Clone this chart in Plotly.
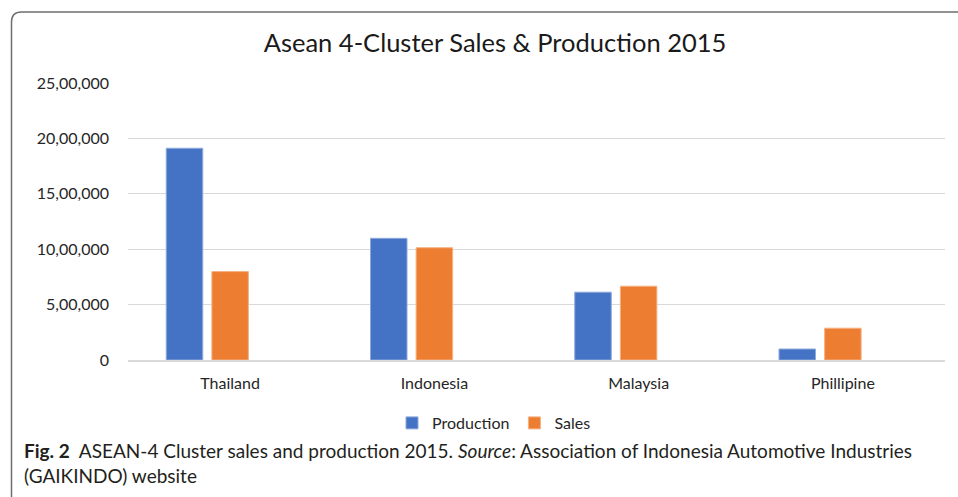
import plotly.graph_objects as go

categories = ["Thailand", "Indonesia", "Malaysia", "Phillipine"]
production = [1911000, 1098000, 612000, 99000]
sales = [798000, 1013000, 666000, 287000]
ytick_vals = [0, 500000, 1000000, 1500000, 2000000, 2500000]
ytick_text = ["0", "5,00,000", "10,00,000", "15,00,000", "20,00,000", "25,00,000"]

W, H = 958, 497
L, R, T, B = 128, 13, 83, 137
PW, PH = W - L - R, H - T - B
FONT = "Lato"

def px(x):
    return (x - L) / PW

def py(y):
    return (H - B - y) / PH

fig = go.Figure()
fig.add_trace(go.Bar(name="Production", x=categories, y=production,
                     marker=dict(color="#4472C4", line=dict(color="#8fa9dc", width=1))))
fig.add_trace(go.Bar(name="Sales", x=categories, y=sales,
                     marker=dict(color="#ED7D31", line=dict(color="#f4b183", width=1))))
fig.add_trace(go.Bar(name="", x=categories, y=[0, 0, 0, 0], showlegend=False,
                     marker=dict(color="rgba(0,0,0,0)", line=dict(width=0)), hoverinfo="skip"))

frame = (f"M {px(11.5)},{py(H+5)} L {px(11.5)},{py(22)} Q {px(11.5)},{py(12)} {px(21.5)},{py(12)} "
         f"L {px(W+5)},{py(12)}")

fig.update_layout(
    width=W, height=H,
    margin=dict(l=L, r=R, t=T, b=B),
    paper_bgcolor="white", plot_bgcolor="white",
    barmode="group", bargap=0.33, bargroupgap=0.2,
    font=dict(family=FONT, color="#262626"),
    title=dict(text="Asean 4-Cluster Sales & Production 2015", x=495 / W, xanchor="center",
               y=1 - 43 / H, yanchor="middle", yref="container",
               font=dict(family=FONT, size=25.5, color="#1a1a1a")),
    xaxis=dict(showline=True, linecolor="#d9d9d9", linewidth=1.5, ticks="",
               tickfont=dict(size=16, color="#262626"), showgrid=False,
               ticklabelstandoff=8),
    yaxis=dict(range=[0, 2500000], tickvals=ytick_vals, ticktext=ytick_text,
               showgrid=True, gridcolor="#d9d9d9", gridwidth=1.2, zeroline=False,
               tickfont=dict(size=16, color="#262626"), ticks="", ticklen=0,
               ticklabelstandoff=18),
    legend=dict(orientation="h", x=px(494), xanchor="center", y=py(423), yanchor="middle",
                font=dict(size=16, color="#262626"), itemwidth=30, traceorder="normal"),
    shapes=[dict(type="path", path=frame, xref="paper", yref="paper",
                 line=dict(color="#6d6e71", width=1.5))],
    annotations=[dict(
        text="<b>Fig. 2</b>  ASEAN-4 Cluster sales and production 2015. <i>Source</i>: Association of Indonesia Automotive Industries<br>(GAIKINDO) website",
        x=px(22), xanchor="left", y=py(437), yanchor="top", xref="paper", yref="paper",
        showarrow=False, align="left",
        font=dict(family=FONT, size=19, color="#231f20"))],
)

fig.write_html("out.html", config={"displayModeBar": False},
               post_script="document.body.style.margin='0px';")
